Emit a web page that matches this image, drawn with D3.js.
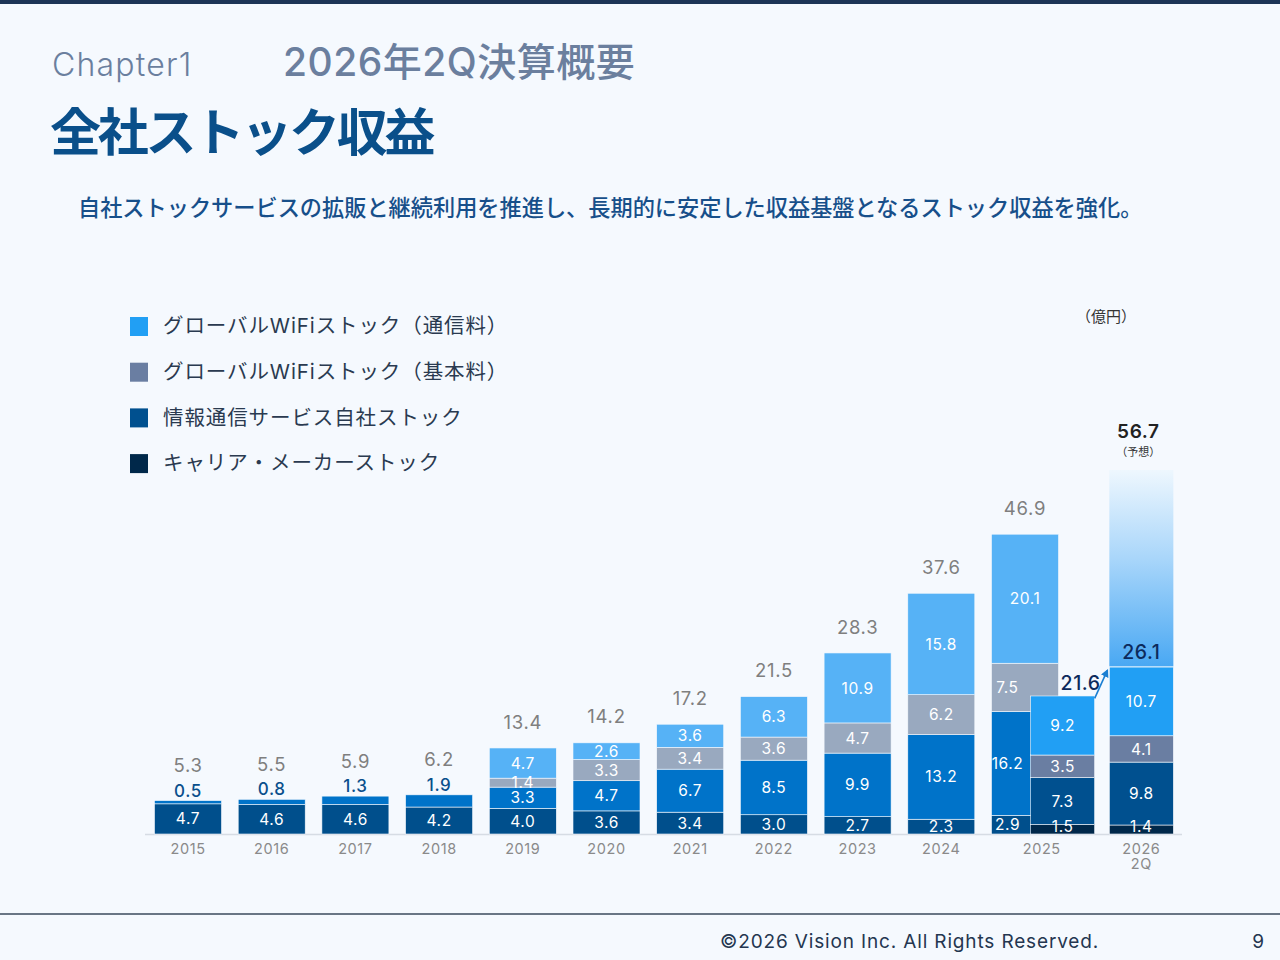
<!DOCTYPE html>
<html>
<head>
<meta charset="utf-8">
<script src="https://cdn.jsdelivr.net/npm/d3@7"></script>
<style>
  html, body { margin: 0; padding: 0; background: #f5f9fe; }
  svg { display: block; font-family: "Noto Sans CJK JP", "Noto Sans", sans-serif; }
</style>
</head>
<body>
<svg id="chart" width="1280" height="960"></svg>
<script>
// ---- data (億円) ----
var years = ["2015", "2016", "2017", "2018", "2019", "2020", "2021", "2022", "2023", "2024", "2025"];
var carrier = [4.7, 4.6, 4.6, 4.2, 4.0, 3.6, 3.4, 3.0, 2.7, 2.3, 2.9];
var infoComm = [0.5, 0.8, 1.3, 1.9, 3.3, 4.7, 6.7, 8.5, 9.9, 13.2, 16.2];
var wifiBase = [0, 0, 0, 0, 1.4, 3.3, 3.4, 3.6, 4.7, 6.2, 7.5];
var wifiFee = [0, 0, 0, 0, 4.7, 2.6, 3.6, 6.3, 10.9, 15.8, 20.1];
var totals = [5.3, 5.5, 5.9, 6.2, 13.4, 14.2, 17.2, 21.5, 28.3, 37.6, 46.9];

var q2Names = ["2025 2Q", "2026 2Q"];
var q2Carrier = [1.5, 1.4];
var q2Info = [7.3, 9.8];
var q2Base = [3.5, 4.1];
var q2Fee = [9.2, 10.7];
var q2Totals = [21.6, 26.1];
var forecast2026 = 56.7;

var axisLabels = ["2015", "2016", "2017", "2018", "2019", "2020", "2021", "2022", "2023", "2024", "2025", "2026\n2Q"];
var seriesNames = ["グローバルWiFiストック（通信料）", "グローバルWiFiストック（基本料）", "情報通信サービス自社ストック", "キャリア・メーカーストック"];

var keys = ["carrier", "info", "base", "fee"];
var pastColors = { carrier: "#004f8c", info: "#0073c9", base: "#99a9bf", fee: "#56b2f6" };
var nowColors = { carrier: "#00284a", info: "#00508f", base: "#6a7ea2", fee: "#219ff4" };

var LATIN = "Inter, 'Noto Sans CJK JP', sans-serif";

var svg = d3.select("#chart");

// ---- frame ----
svg.append("rect").attr("width", 1280).attr("height", 960).attr("fill", "#f5f9fe");
svg.append("rect").attr("width", 1280).attr("height", 4).attr("fill", "#1d3557");
svg.append("line").attr("x1", 0).attr("x2", 1280).attr("y1", 914).attr("y2", 914)
    .attr("stroke", "#3a4a5c").attr("stroke-width", 1.5);

svg.append("text").attr("x", 52).attr("y", 76).attr("font-size", 32).attr("font-weight", 300)
    .attr("font-family", LATIN).attr("letter-spacing", 1.2)
    .attr("fill", "#6b7f9e").text("Chapter1");
svg.append("text").attr("x", 283).attr("y", 76).attr("font-size", 39).attr("font-weight", 500)
    .attr("font-family", LATIN).attr("letter-spacing", 0.5)
    .attr("fill", "#6b7f9e").text("2026年2Q決算概要");
svg.append("text").attr("x", 50).attr("y", 151).attr("font-size", 51).attr("font-weight", 700)
    .attr("letter-spacing", -3.2)
    .attr("fill", "#0a4f8a").text("全社ストック収益");
svg.append("text").attr("x", 78).attr("y", 216).attr("font-size", 22.2).attr("font-weight", 500)
    .attr("fill", "#174f8a")
    .text("自社ストックサービスの拡販と継続利用を推進し、長期的に安定した収益基盤となるストック収益を強化。");

svg.append("text").attr("x", 720).attr("y", 948).attr("font-size", 19).attr("fill", "#243650")
    .attr("font-family", LATIN).attr("letter-spacing", 0.85)
    .text("©2026 Vision Inc. All Rights Reserved.");
svg.append("text").attr("x", 1264).attr("y", 948).attr("font-size", 19).attr("fill", "#243650")
    .attr("font-family", LATIN).attr("text-anchor", "end").text("9");

svg.append("text").attr("x", 1076).attr("y", 322).attr("font-size", 15).attr("fill", "#333")
    .text("（億円）");

// ---- legend ----
var legendColors = [nowColors.fee, nowColors.base, nowColors.info, nowColors.carrier];
var legend = svg.append("g").selectAll("g").data(seriesNames).enter().append("g")
    .attr("transform", function (d, i) { return "translate(130," + (326 + i * 45.7) + ")"; });
legend.append("rect").attr("x", 0).attr("y", -9).attr("width", 18).attr("height", 19)
    .attr("fill", function (d, i) { return legendColors[i]; });
legend.append("text").attr("x", 33).attr("y", 0).attr("dy", "0.36em").attr("font-size", 20.5)
    .attr("font-family", LATIN).attr("letter-spacing", 0.9)
    .attr("fill", "#2a3a50").text(function (d) { return d; });

// ---- scales ----
var baseY = 834;
var y = d3.scaleLinear().domain([0, forecast2026]).range([baseY, 470]);
var x = d3.scaleLinear().domain([0, 10]).range([188, 1025]);
var barW = 67, q2W = 64;

var rows = years.map(function (yr, i) {
    return { name: yr, slot: i, carrier: carrier[i], info: infoComm[i], base: wifiBase[i], fee: wifiFee[i], total: totals[i] };
});
var q2Rows = q2Names.map(function (n, i) {
    return { name: n, slot: i === 0 ? 10.45 : 11.39, carrier: q2Carrier[i], info: q2Info[i], base: q2Base[i], fee: q2Fee[i], total: q2Totals[i] };
});

var stack = d3.stack().keys(keys);
var pastStack = stack(rows);
var nowStack = stack(q2Rows);

// axis line
svg.append("line").attr("x1", 145).attr("x2", 1182).attr("y1", baseY + 0.5).attr("y2", baseY + 0.5)
    .attr("stroke", "#d6dce4").attr("stroke-width", 1.5);

// forecast gradient bar (2026 full year)
var defs = svg.append("defs");
var grad = defs.append("linearGradient").attr("id", "fcst").attr("x1", 0).attr("x2", 0).attr("y1", 1).attr("y2", 0);
grad.append("stop").attr("offset", "0%").attr("stop-color", "#49a8f3");
grad.append("stop").attr("offset", "55%").attr("stop-color", "#a9d6fa");
grad.append("stop").attr("offset", "100%").attr("stop-color", "#eef7fe");
var fcX = x(q2Rows[1].slot) - q2W / 2;
svg.append("rect").attr("x", fcX).attr("width", q2W)
    .attr("y", y(forecast2026)).attr("height", y(q2Totals[1]) - y(forecast2026))
    .attr("fill", "url(#fcst)");

// stacked bars
function drawBars(layers, colors, width) {
    svg.append("g").selectAll("g").data(layers).enter().append("g")
        .attr("fill", function (d) { return colors[d.key]; })
        .selectAll("rect").data(function (d) { return d; }).enter().append("rect")
        .filter(function (d) { return d[1] - d[0] > 0; })
        .attr("x", function (d) { return x(d.data.slot) - width / 2; })
        .attr("y", function (d) { return y(d[1]); })
        .attr("width", width)
        .attr("height", function (d) { return y(d[0]) - y(d[1]); })
        .attr("stroke", "#f5f9fe").attr("stroke-width", 0.6);
}
drawBars(pastStack, pastColors, barW);
drawBars(nowStack, nowColors, q2W);

// segment labels
function segLabels(layers, width) {
    layers.forEach(function (layer) {
        layer.forEach(function (d) {
            var v = d.data[layer.key];
            if (!v) return;
            // small first years: info label sits above the bar
            if (layer.key === "info" && d.data.slot < 4) return;
            var cx = x(d.data.slot);
            if (d.data.name === "2025" && layer.key !== "fee") cx = x(d.data.slot) - width / 2 + 16;
            var cy = Math.min((y(d[0]) + y(d[1])) / 2, baseY - 8);
            svg.append("text").attr("x", cx).attr("y", cy).attr("dy", "0.36em")
                .attr("text-anchor", "middle").attr("font-size", 15.5).attr("fill", "#fff")
                .attr("font-family", LATIN).attr("letter-spacing", 0.6)
                .text(v.toFixed(1));
        });
    });
}
segLabels(pastStack, barW);
segLabels(nowStack, q2W);

// labels above small bars and totals
rows.forEach(function (d, i) {
    var top = y(d.carrier + d.info + d.base + d.fee);
    var off = 26;
    if (d.slot < 4) {
        svg.append("text").attr("x", x(d.slot)).attr("y", top - 10).attr("dy", "0.36em")
            .attr("text-anchor", "middle").attr("font-size", 17).attr("font-weight", 500)
            .attr("font-family", LATIN).attr("letter-spacing", 0.6)
            .attr("fill", "#0a4f8c").text(d.info.toFixed(1));
        off = 35;
    }
    svg.append("text").attr("x", x(d.slot)).attr("y", top - off).attr("dy", "0.36em")
        .attr("text-anchor", "middle").attr("font-size", 18.5).attr("fill", "#7f7f7f")
        .attr("font-family", LATIN).attr("letter-spacing", 0.7)
        .text(d.total.toFixed(1));
});

q2Rows.forEach(function (d, i) {
    var top = y(d.carrier + d.info + d.base + d.fee);
    svg.append("text").attr("x", i === 0 ? x(d.slot) + 18 : x(d.slot))
        .attr("y", i === 0 ? top - 13 : top - 15).attr("dy", "0.36em")
        .attr("text-anchor", "middle").attr("font-size", 19.5).attr("font-weight", 500)
        .attr("font-family", LATIN).attr("letter-spacing", 0.6)
        .attr("fill", "#0c2a5c").text(d.total.toFixed(1));
});

// forecast label
var fTop = y(forecast2026);
svg.append("text").attr("x", x(q2Rows[1].slot) - 3).attr("y", fTop - 39).attr("dy", "0.36em")
    .attr("text-anchor", "middle").attr("font-size", 19).attr("font-weight", 600)
    .attr("font-family", LATIN).attr("letter-spacing", 0.6)
    .attr("fill", "#222").text(forecast2026.toFixed(1));
svg.append("text").attr("x", x(q2Rows[1].slot) - 3).attr("y", fTop - 18).attr("dy", "0.36em")
    .attr("text-anchor", "middle").attr("font-size", 11).attr("fill", "#333").text("（予想）");

// growth arrow between the two 2Q bars
defs.append("marker").attr("id", "arrow").attr("viewBox", "0 0 10 10").attr("refX", 8).attr("refY", 5)
    .attr("markerWidth", 5).attr("markerHeight", 5).attr("orient", "auto")
    .append("path").attr("d", "M0,0L10,5L0,10z").attr("fill", "#1b7fd2");
var a0 = q2Rows[0], a1 = q2Rows[1];
svg.append("line")
    .attr("x1", x(a0.slot) + q2W / 2).attr("y1", y(a0.total) + 3)
    .attr("x2", x(a1.slot) - q2W / 2 - 2).attr("y2", y(a1.total) + 4)
    .attr("stroke", "#1b7fd2").attr("stroke-width", 1.6).attr("marker-end", "url(#arrow)");

// x axis labels
var labelSlots = d3.range(10).concat([10.2, 11.39]);
axisLabels.forEach(function (lab, i) {
    var t = svg.append("text").attr("x", x(labelSlots[i])).attr("y", 854)
        .attr("text-anchor", "middle").attr("font-size", 14.5).attr("fill", "#8a8a8a")
        .attr("font-family", LATIN).attr("letter-spacing", 0.6);
    lab.split("\n").forEach(function (line, j) {
        t.append("tspan").attr("x", x(labelSlots[i])).attr("dy", j === 0 ? 0 : "1.05em").text(line);
    });
});
</script>
</body>
</html>
